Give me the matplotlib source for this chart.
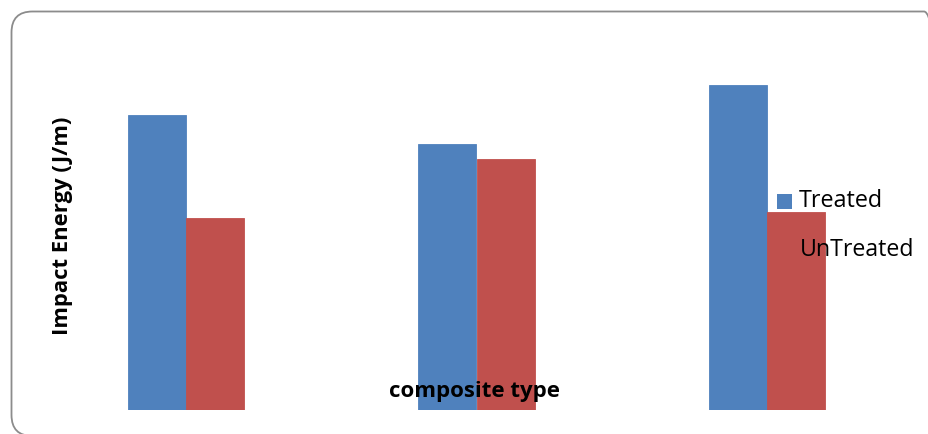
import matplotlib
matplotlib.use("Agg")
import matplotlib.pyplot as plt
from matplotlib.patches import FancyBboxPatch, Rectangle
import numpy as np

# Impact energy per composite type
categories = ["Composite 1", "Composite 2", "Composite 3"]
treated = [29.5, 26.6, 32.5]
untreated = [19.2, 25.1, 19.8]
series_names = ["Treated", "UnTreated"]

BLUE = "#4F81BD"
RED = "#C0504D"

W, H = 929, 434
DPI = 100
fig = plt.figure(figsize=(W / DPI, H / DPI), dpi=DPI)
fig.patch.set_facecolor("white")

# rounded frame around the chart area (runs past the right/bottom edge)
frame = FancyBboxPatch((11.5 / DPI, (H - 436) / DPI), 933.5 / DPI, 424.5 / DPI,
                       boxstyle="round,pad=0,rounding_size=0.21",
                       transform=fig.dpi_scale_trans, facecolor="none",
                       edgecolor="#8c8c8c", linewidth=1.3, clip_on=False)
fig.patches.append(frame)

# axes placed so that bars stand on the baseline at y=410 px
ax_left, ax_right = 40, 910
ax_bottom, ax_top = 410, 40
ax = fig.add_axes([ax_left / W, 1 - ax_bottom / H,
                   (ax_right - ax_left) / W, (ax_bottom - ax_top) / H])
ax.set_facecolor("none")

x = np.arange(len(categories))
width = 0.2
ax.bar(x - width / 2, treated, width, color=BLUE, edgecolor=BLUE,
       linewidth=0.6, label=series_names[0])
ax.bar(x + width / 2, untreated, width, color=RED, edgecolor=RED,
       linewidth=0.6, label=series_names[1])

spacing = 290.5
ax.set_xlim(-(186 - ax_left) / spacing, (ax_right - 186) / spacing)
ax.set_ylim(0, 37)
ax.axis("off")

# axis titles
fig.text(63 / W, 1 - 226 / H, "Impact Energy (J/m)", rotation=90,
         ha="center", va="center", fontsize=15.8, fontweight="bold",
         family="Open Sans", color="black")
fig.text(475 / W, 1 - 392 / H, "composite type", ha="center", va="center",
         fontsize=16, fontweight="bold", family="Open Sans", color="black",
         zorder=5)

# legend
fig.patches.append(Rectangle((777 / W, 1 - 209 / H), 15 / W, 15 / H,
                             transform=fig.transFigure, facecolor=BLUE,
                             edgecolor="none"))
fig.text(799 / W, 1 - 201 / H, series_names[0], ha="left", va="center",
         fontsize=16.8, family="Open Sans", color="black")
fig.text(800 / W, 1 - 250 / H, series_names[1], ha="left", va="center",
         fontsize=16.7, family="Open Sans", color="black", zorder=5)

fig.savefig("out.png", dpi=DPI, facecolor="white")
